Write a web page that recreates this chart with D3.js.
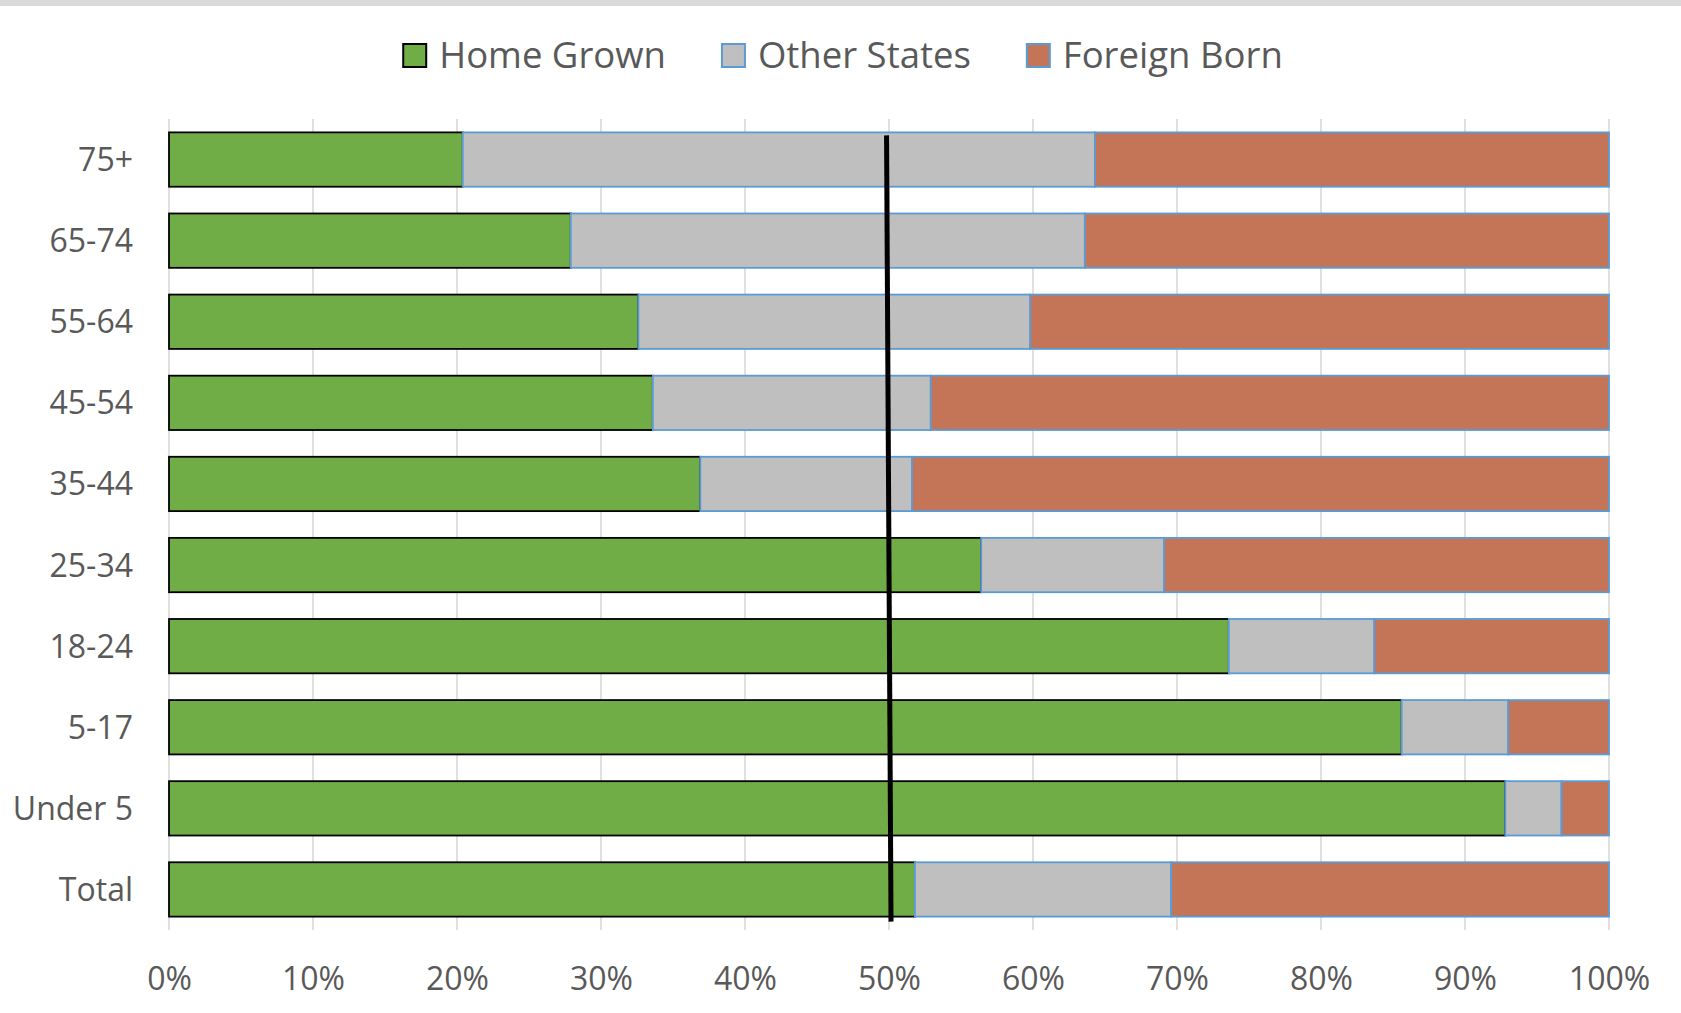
<!DOCTYPE html>
<html>
<head>
<meta charset="utf-8">
<script src="https://cdn.jsdelivr.net/npm/d3@7"></script>
<style>
  html, body { margin: 0; padding: 0; background: #fff; }
  svg { display: block; }
</style>
</head>
<body>
<svg id="chart" width="1681" height="1013"></svg>
<script>
// ---- Data ----
const categories = ["75+", "65-74", "55-64", "45-54", "35-44", "25-34", "18-24", "5-17", "Under 5", "Total"];
const homeGrown   = [20.4, 27.9, 32.6, 33.6, 36.9, 56.4, 73.6, 85.6, 92.8, 51.8];
const otherStates = [43.9, 35.7, 27.2, 19.3, 14.7, 12.7, 10.1, 7.4, 3.9, 17.8];
const foreignBorn = [35.7, 36.4, 40.2, 47.1, 48.4, 30.9, 16.3, 7.0, 3.3, 30.4];
const seriesNames = ["Home Grown", "Other States", "Foreign Born"];
const tickValues = [0, 10, 20, 30, 40, 50, 60, 70, 80, 90, 100];
const tickLabels = ["0%", "10%", "20%", "30%", "40%", "50%", "60%", "70%", "80%", "90%", "100%"];
const refLineX = [49.83, 50.14]; // hand-drawn 50% marker (top, bottom)

// ---- Styles ----
const fills   = ["#70ad47", "#bfbfbf", "#c47557"];
const strokes = ["#000000", "#5b9bd5", "#5b9bd5"];
const textColor = "#595959";
const fontFamily = "'Open Sans', sans-serif";

const svg = d3.select("#chart");

// top grey band
svg.append("rect").attr("x", 0).attr("y", 0).attr("width", 1681).attr("height", 6).attr("fill", "#dadada");

const x = d3.scaleLinear().domain([0, 100]).range([169, 1609]);
const y = d3.scaleBand().domain(categories).range([119, 930]).paddingInner(0.33).paddingOuter(0.165);

// gridlines
svg.append("g").selectAll("line").data(tickValues).join("line")
  .attr("x1", d => x(d)).attr("x2", d => x(d))
  .attr("y1", 119).attr("y2", 930)
  .attr("stroke", "#d9d9d9").attr("stroke-width", 1.6);

// stacked data
const rows = categories.map((c, i) => ({ cat: c, "Home Grown": homeGrown[i], "Other States": otherStates[i], "Foreign Born": foreignBorn[i] }));
const stack = d3.stack().keys(seriesNames)(rows);

stack.forEach((layer, si) => {
  svg.append("g").selectAll("rect").data(layer).join("rect")
    .attr("x", d => x(d[0]))
    .attr("width", d => x(d[1]) - x(d[0]))
    .attr("y", d => y(d.data.cat))
    .attr("height", y.bandwidth())
    .attr("fill", fills[si])
    .attr("stroke", strokes[si])
    .attr("stroke-width", 1.8);
});

// x axis labels
const xAxis = d3.axisBottom(x).tickValues(tickValues).tickFormat((d, i) => tickLabels[i]).tickSize(0).tickPadding(0);
const gx = svg.append("g").attr("transform", "translate(0,990)").call(xAxis);
gx.select(".domain").remove();
gx.selectAll("text").attr("dy", 0).attr("y", 0)
  .style("font-family", fontFamily).style("font-size", "32px").attr("fill", textColor);

// y axis labels
const yAxis = d3.axisLeft(y).tickSize(0).tickPadding(0);
const gy = svg.append("g").attr("transform", "translate(133,0)").call(yAxis);
gy.select(".domain").remove();
gy.selectAll("text").attr("dy", "0.36em").attr("x", 0)
  .style("font-family", fontFamily).style("font-size", "32px").attr("fill", textColor);

// reference line
svg.append("line")
  .attr("x1", x(refLineX[0])).attr("y1", y(categories[0]) + 3)
  .attr("x2", x(refLineX[1])).attr("y2", y(categories[categories.length - 1]) + y.bandwidth() + 5)
  .attr("stroke", "#000").attr("stroke-width", 5);

// legend
const legend = svg.append("g");
const items = seriesNames.map((name, i) => {
  const g = legend.append("g");
  g.append("rect").attr("x", 0).attr("y", 44).attr("width", 23).attr("height", 23)
    .attr("fill", fills[i]).attr("stroke", strokes[i]).attr("stroke-width", 2);
  const t = g.append("text").attr("x", 36).attr("y", 68).text(name)
    .style("font-family", fontFamily).style("font-size", "36.5px").attr("fill", textColor);
  return { g, w: 36 + t.node().getComputedTextLength() };
});
const gap = 56;
const total = d3.sum(items, d => d.w) + gap * (items.length - 1);
let cx = 843 - total / 2;
items.forEach(it => { it.g.attr("transform", `translate(${cx},0)`); cx += it.w + gap; });
</script>
</body>
</html>
